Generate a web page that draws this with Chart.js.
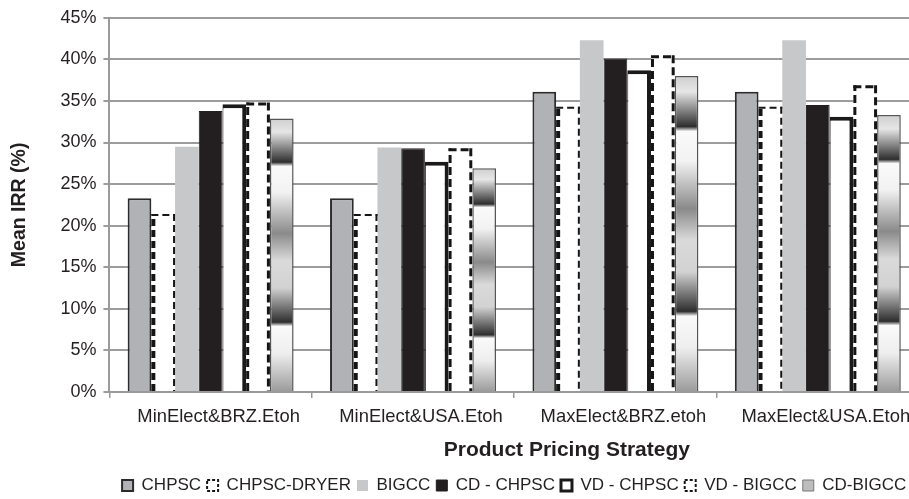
<!DOCTYPE html>
<html>
<head>
<meta charset="utf-8">
<script src="https://cdn.jsdelivr.net/npm/chart.js@4/dist/chart.umd.min.js"></script>
<style>
  html, body { margin: 0; padding: 0; background: #fff; overflow: hidden; }
  #wrap { width: 925px; height: 504px; }
</style>
</head>
<body>
<div id="wrap"><canvas id="irrChart"></canvas></div>
<script>
const strategies = ['MinElect&BRZ.Etoh', 'MinElect&USA.Etoh', 'MaxElect&BRZ.etoh', 'MaxElect&USA.Etoh'];
const chpsc      = [23.3, 23.3, 36.1, 36.1];
const chpscDryer = [21.4, 21.4, 34.3, 34.3];
const bigcc      = [29.5, 29.4, 42.3, 42.3];
const cdChpsc    = [33.8, 29.3, 40.1, 34.5];
const vdChpsc    = [34.6, 27.7, 38.7, 33.1];
const vdBigcc    = [34.8, 29.3, 40.5, 36.9];
const cdBigcc    = [32.9, 26.9, 38.0, 33.3];
const yMax = 45;
const yStep = 5;

const FONT = "'Liberation Sans', Arial, sans-serif";

// banded grey fill for the CD-BIGCC bars (top -> base)
const bandStops = [
  [0, '#cfcfcf'], [0.05, '#e6e6e6'], [0.16, '#2e2e2e'], [0.175, '#fafafa'],
  [0.27, '#f2f2f2'], [0.42, '#8a8a8a'], [0.52, '#dadada'], [0.62, '#d2d2d2'],
  [0.745, '#2e2e2e'], [0.76, '#fafafa'], [0.86, '#eeeeee'], [1, '#9a9a9a']
];

function bandFill(ctx) {
  const y = ctx.chart.scales.y;
  if (!y || ctx.raw === undefined) return '#bdbdbd';
  const top = y.getPixelForValue(ctx.raw);
  const base = y.getPixelForValue(0);
  if (!isFinite(top) || !isFinite(base) || base - top < 1) return '#bdbdbd';
  const g = ctx.chart.ctx.createLinearGradient(0, top, 0, base);
  bandStops.forEach(s => g.addColorStop(s[0], s[1]));
  return g;
}

// dashed outlines (left, top, right) for the two dashed series
const dashedOutline = {
  id: 'dashedOutline',
  afterDatasetsDraw(chart) {
    const c = chart.ctx;
    chart.data.datasets.forEach((ds, i) => {
      if (!ds.dash) return;
      const meta = chart.getDatasetMeta(i);
      if (meta.hidden) return;
      const [wl, wt, wr] = ds.dashWidths;
      c.save();
      c.strokeStyle = '#151515';
      c.setLineDash(ds.dash);
      meta.data.forEach(bar => {
        const { x, y, base, width } = bar.getProps(['x', 'y', 'base', 'width'], true);
        const l = x - width / 2, r = x + width / 2;
        c.lineWidth = wl;
        c.beginPath(); c.moveTo(l + wl / 2, base); c.lineTo(l + wl / 2, y); c.stroke();
        c.lineWidth = wt;
        c.beginPath(); c.moveTo(l, y + wt / 2); c.lineTo(r, y + wt / 2); c.stroke();
        c.lineWidth = wr;
        c.beginPath(); c.moveTo(r - wr / 2, y); c.lineTo(r - wr / 2, base); c.stroke();
      });
      c.restore();
    });
  }
};

// x axis title sits right of the plot centre in the original
const xTitle = {
  id: 'xTitle',
  afterDraw(chart) {
    const x = chart.scales.x;
    const c = chart.ctx;
    c.save();
    c.font = 'bold 21px ' + FONT;
    c.fillStyle = '#231f20';
    c.textAlign = 'center';
    c.textBaseline = 'middle';
    c.fillText('Product Pricing Strategy', x.left + x.width * 0.565, x.top + 58);
    c.restore();
  }
};

const datasets = [
  { label: 'CHPSC', data: chpsc, backgroundColor: '#b0b2b5', borderColor: '#2b2b2b', borderWidth: 2 },
  { label: 'CHPSC-DRYER', data: chpscDryer, backgroundColor: '#ffffff', borderWidth: 0,
    dash: [7, 4], dashWidths: [4, 2, 2] },
  { label: 'BIGCC', data: bigcc, backgroundColor: '#c7c8ca', borderWidth: 0 },
  { label: 'CD - CHPSC', data: cdChpsc, backgroundColor: '#231f20', borderColor: '#231f20', borderWidth: 1 },
  { label: 'VD - CHPSC', data: vdChpsc, backgroundColor: '#ffffff', borderColor: '#1a1a1a',
    borderWidth: { left: 1, top: 4, right: 4, bottom: 0 } },
  { label: 'VD - BIGCC', data: vdBigcc, backgroundColor: '#ffffff', borderWidth: 0,
    dash: [8, 4], dashWidths: [3, 3, 3] },
  { label: 'CD-BIGCC', data: cdBigcc, backgroundColor: bandFill, borderColor: '#555555', borderWidth: 1.5 }
];

new Chart(document.getElementById('irrChart'), {
  type: 'bar',
  data: { labels: strategies, datasets },
  options: {
    responsive: true,
    maintainAspectRatio: false,
    animation: false,
    datasets: { bar: { categoryPercentage: 0.82, barPercentage: 1 } },
    layout: { padding: { left: 8, right: 6, top: 8, bottom: 0 } },
    plugins: {
      tooltip: { enabled: false },
      legend: {
        position: 'bottom',
        fullSize: false,
        labels: {
          font: { family: FONT, size: 17 },
          color: '#231f20',
          boxWidth: 11,
          boxHeight: 11,
          padding: 6,
          generateLabels(chart) {
            const items = Chart.defaults.plugins.legend.labels.generateLabels(chart);
            items.forEach(it => {
              const ds = chart.data.datasets[it.datasetIndex];
              if (ds.dash) {
                it.fillStyle = '#ffffff';
                it.strokeStyle = '#151515';
                it.lineWidth = 2;
                it.lineDash = [3, 2];
              } else if (ds.label === 'CD-BIGCC') {
                it.fillStyle = '#bdbdbd';
                it.strokeStyle = '#777777';
                it.lineWidth = 1;
              } else if (ds.label === 'VD - CHPSC') {
                it.lineWidth = 3;
              } else if (ds.label === 'BIGCC') {
                it.lineWidth = 0;
              }
            });
            return items;
          }
        }
      }
    },
    scales: {
      x: {
        grid: { drawOnChartArea: false, drawTicks: true, tickLength: 6, color: '#999999', lineWidth: 1.5, offset: true },
        border: { color: '#9a9a9a', width: 2 },
        ticks: { font: { family: FONT, size: 18.4 }, color: '#231f20', padding: 8, labelOffset: 8, maxRotation: 0, autoSkip: false },
        afterFit(scale) { scale.height += 35; }
      },
      y: {
        min: 0,
        max: yMax,
        grid: { color: '#9c9c9c', lineWidth: 2, tickLength: 6 },
        border: { color: '#9a9a9a', width: 2 },
        ticks: {
          stepSize: yStep,
          font: { family: FONT, size: 18 },
          color: '#231f20',
          padding: 7,
          callback: v => v + '%'
        },
        title: {
          display: true,
          text: 'Mean IRR (%)',
          font: { family: FONT, size: 19.5, weight: 'bold' },
          color: '#231f20',
          padding: { top: 0, bottom: 22 }
        }
      }
    }
  },
  plugins: [dashedOutline, xTitle]
});
</script>
</body>
</html>
